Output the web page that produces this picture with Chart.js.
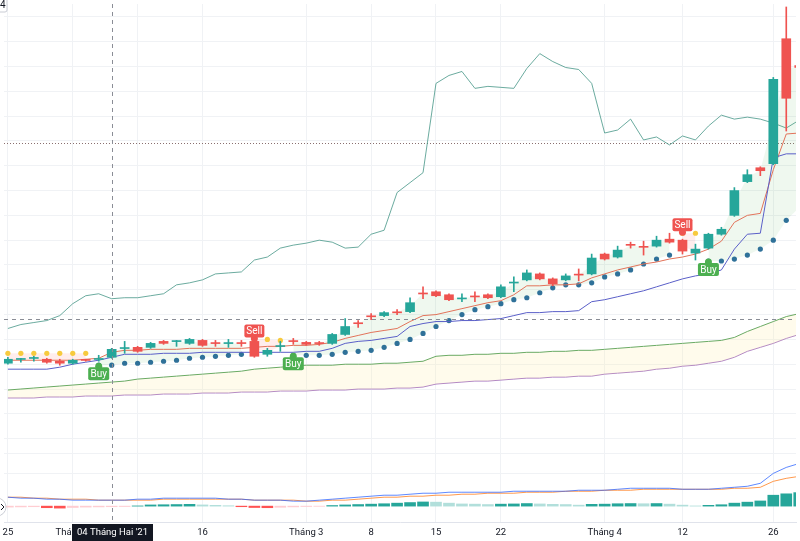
<!DOCTYPE html>
<html>
<head>
<meta charset="utf-8">
<script src="https://cdn.jsdelivr.net/npm/chart.js@4.4.1/dist/chart.umd.min.js"></script>
<style>
  html, body { margin: 0; padding: 0; background: #fff; }
  canvas { display: block; }
</style>
</head>
<body>
<canvas id="chart" width="800" height="541"></canvas>
<script>
// daily sessions from 25 Jan 2021 (bar index 0) to late April
const tickIdx = [0, 5, 10, 15, 23, 28, 33, 38, 46, 52, 59];
const tickLabels = ['25', 'Tháng 2', '8', '16', 'Tháng 3', '8', '15', '22', 'Tháng 4', '12', '26'];
const crossIdx = 8;
const crossLabel = "04 Tháng Hai '21";
const crossPrice = 22.1;
const lastPriceLine = 39.8;
const gridPrices = [52.5, 50, 47.5, 45, 42.5, 40, 37.5, 35, 32.5, 30, 27.5, 25, 22.5, 20, 17.5, 15, 12.5, 10];
const gridMacd = [2.65, 1.65];

const open = [17.6, 17.98, 18.08, 18.0, 17.8, 17.6, 17.92, 17.98, 18.2, 19.08, 19.2, 19.2, 19.8, 19.78, 19.6, 19.9, 19.62, 19.58, 19.62, 19.8,
  18.5, 19.28, 19.82, 19.7, 19.62, 19.6, 20.5, 21.62, 22.32, 22.4, 22.72, 22.8, 24.62, 24.8, 24.5, 24.08, 24.32, 24.5, 24.3, 25.68,
  26.0, 26.6, 26.1, 26.0, 26.52, 26.6, 28.6, 28.3, 29.52, 29.32, 29.4, 30.1, 30.0, 28.7, 29.2, 30.6, 32.5, 35.9, 37.3, 37.7, 50.3, 47.6];
const high = [18.2, 18.1, 18.3, 18.1, 18.0, 18.0, 18.0, 18.4, 19.1, 19.8, 19.3, 19.7, 19.9, 19.9, 20.1, 20.0, 19.9, 20.0, 19.9, 19.9,
  19.1, 19.8, 20.1, 19.8, 19.8, 20.6, 22.1, 21.9, 22.6, 22.8, 23.0, 24.2, 25.3, 24.9, 24.6, 24.6, 24.8, 24.6, 25.5, 26.3,
  27.0, 26.7, 26.2, 26.6, 27.1, 28.6, 28.7, 29.4, 29.8, 29.9, 30.4, 30.7, 30.1, 29.6, 30.7, 31.3, 35.3, 37.1, 37.4, 46.4, 53.5, 47.8];
const low = [17.5, 17.7, 17.8, 17.6, 17.4, 17.5, 17.8, 17.8, 18.1, 18.6, 18.7, 19.1, 19.5, 19.3, 19.5, 19.3, 19.3, 19.2, 19.3, 18.2,
  18.3, 18.8, 19.5, 19.4, 19.4, 19.5, 20.4, 21.2, 22.0, 22.3, 22.5, 22.7, 24.1, 24.3, 23.9, 23.8, 23.8, 24.1, 24.2, 24.8,
  25.9, 26.0, 25.4, 25.9, 25.9, 26.5, 28.0, 28.2, 29.2, 28.5, 29.3, 29.7, 28.6, 28.0, 29.1, 30.5, 32.4, 35.8, 36.5, 37.6, 41.0, 47.2];
const close = [18.0, 18.02, 18.12, 17.7, 17.6, 17.9, 17.88, 18.02, 19.0, 19.12, 18.8, 19.6, 19.6, 19.82, 20.0, 19.4, 19.58, 19.62, 19.58, 18.3,
  18.9, 19.32, 19.78, 19.5, 19.58, 20.5, 21.3, 21.58, 22.28, 22.7, 22.68, 23.7, 24.58, 24.4, 24.0, 24.12, 24.28, 24.2, 25.3, 25.72,
  26.7, 26.1, 25.6, 26.4, 26.48, 28.2, 28.1, 29.0, 29.48, 29.28, 30.0, 29.8, 28.9, 29.1, 30.6, 31.1, 35.0, 36.6, 37.0, 46.2, 44.3, 47.4];

// moving averages
const maFast = [17.9, 17.9, 17.9, 17.9, 17.9, 17.9, 18.0, 18.1, 18.7, 18.9, 18.9, 19.0, 19.0, 19.0, 19.1, 19.1, 19.1, 19.1, 19.1, 19.2,
  19.3, 19.3, 19.4, 19.4, 19.5, 19.7, 20.1, 20.4, 20.7, 20.9, 21.1, 21.8, 22.4, 22.5, 22.8, 23.1, 23.4, 23.7, 23.9, 24.5,
  25.4, 25.4, 25.5, 25.5, 25.6, 26.2, 26.6, 27.0, 27.3, 27.6, 27.8, 28.1, 28.3, 28.6, 29.1, 29.9, 31.8, 32.5, 32.7, 37.1, 40.7, 40.8];
const maSlow = [17.0, 17.0, 17.0, 17.0, 17.2, 17.5, 17.7, 17.9, 18.2, 18.5, 18.5, 18.5, 18.6, 18.6, 18.6, 18.7, 18.7, 18.7, 18.7, 18.7,
  18.7, 18.7, 18.7, 18.8, 18.8, 19.1, 19.6, 19.8, 19.9, 20.1, 20.3, 21.3, 21.6, 21.8, 21.8, 21.9, 21.9, 22.0, 22.1, 22.4,
  22.7, 22.7, 22.8, 22.8, 22.9, 23.8, 24.0, 24.3, 24.6, 24.9, 25.3, 25.7, 26.1, 26.4, 26.6, 27.0, 29.1, 30.6, 30.7, 38.3, 38.7, 38.7];
const bandUpper = [14.9, 15.0, 15.1, 15.2, 15.3, 15.4, 15.5, 15.6, 15.7, 15.8, 16.0, 16.1, 16.2, 16.3, 16.4, 16.5, 16.6, 16.7, 16.8, 17.0,
  17.1, 17.2, 17.3, 17.4, 17.4, 17.4, 17.5, 17.5, 17.5, 17.6, 17.6, 17.7, 17.8, 18.3, 18.4, 18.4, 18.5, 18.5, 18.6, 18.6,
  18.7, 18.7, 18.8, 18.8, 18.9, 18.9, 19.0, 19.1, 19.2, 19.3, 19.4, 19.5, 19.6, 19.7, 19.8, 19.9, 20.2, 20.8, 21.3, 21.8, 22.3, 22.6];
const bandLower = [14.1, 14.1, 14.1, 14.2, 14.2, 14.2, 14.3, 14.3, 14.3, 14.4, 14.4, 14.4, 14.5, 14.5, 14.5, 14.6, 14.6, 14.6, 14.7, 14.7,
  14.7, 14.8, 14.8, 14.8, 14.9, 14.9, 14.9, 15.0, 15.0, 15.0, 15.1, 15.1, 15.2, 15.5, 15.6, 15.7, 15.8, 15.8, 15.9, 16.0,
  16.1, 16.1, 16.2, 16.2, 16.3, 16.3, 16.5, 16.6, 16.7, 16.8, 17.0, 17.1, 17.3, 17.4, 17.6, 17.8, 18.2, 18.8, 19.2, 19.6, 20.1, 20.5];

// supertrend: up line while long, down line while short
const stUp = [null, null, null, null, null, null, null, 17.4, 17.4, 17.6, 17.6, 17.7, 17.8, 17.9, 18.1, 18.2, 18.3, 18.4, 18.5, null,
  null, null, 18.4, 18.4, 18.4, 18.5, 18.7, 18.8, 18.9, 19.2, 19.6, 20.0, 20.6, 21.3, 21.9, 22.5, 23.0, 23.3, 23.6, 24.0,
  24.2, 24.7, 25.2, 25.5, 25.5, 25.7, 26.3, 26.6, 27.0, 27.6, 28.1, 28.5, null, null, 27.9, 27.9, 28.1, 28.5, 29.1, 30.0, 32.0, 33.3];
const stDown = [18.6, 18.6, 18.6, 18.6, 18.6, 18.6, 18.6, null, null, null, null, null, null, null, null, null, null, null, null, 20.0,
  20.0, 19.9, null, null, null, null, null, null, null, null, null, null, null, null, null, null, null, null, null, null,
  null, null, null, null, null, null, null, null, null, null, null, null, 30.7, 30.7, null, null, null, null, null, null, null, null];
const buyIdx = [7, 22, 54];
const sellIdx = [19, 52];

// comparison symbol (own scale)
const compare = [27.3, 27.7, 27.9, 28.1, 28.6, 29.8, 30.6, 30.8, 30.3, 30.4, 30.4, 30.6, 30.8, 31.7, 31.9, 32.2, 32.8, 32.9, 33.0, 34.2,
  34.5, 35.4, 35.7, 35.9, 36.2, 36.0, 35.4, 35.5, 36.8, 37.2, 41.0, 42.0, 43.0, 52.0, 52.8, 53.2, 51.5, 51.7, 51.6, 51.5,
  53.5, 55.0, 54.2, 53.6, 53.4, 52.0, 47.0, 47.3, 48.4, 46.3, 46.6, 45.8, 46.7, 46.3, 47.7, 48.8, 48.4, 48.6, 48.4, 48.0, 47.5, 48.3];

// MACD pane
const macdLine = [0.45, 0.40, 0.40, 0.35, 0.35, 0.30, 0.30, 0.30, 0.30, 0.30, 0.35, 0.35, 0.40, 0.40, 0.40, 0.40, 0.40, 0.35, 0.35, 0.30,
  0.30, 0.30, 0.25, 0.25, 0.30, 0.35, 0.40, 0.45, 0.50, 0.55, 0.55, 0.60, 0.65, 0.65, 0.70, 0.70, 0.70, 0.70, 0.70, 0.75,
  0.75, 0.75, 0.75, 0.75, 0.80, 0.80, 0.80, 0.85, 0.90, 0.90, 0.90, 0.90, 0.85, 0.85, 0.85, 0.90, 0.95, 1.00, 1.15, 1.65, 1.95, 2.15];
const signalLine = [0.45, 0.45, 0.40, 0.40, 0.35, 0.35, 0.35, 0.30, 0.30, 0.30, 0.30, 0.30, 0.35, 0.35, 0.35, 0.35, 0.35, 0.35, 0.35, 0.30,
  0.30, 0.30, 0.30, 0.25, 0.25, 0.30, 0.30, 0.35, 0.40, 0.45, 0.45, 0.50, 0.50, 0.55, 0.55, 0.60, 0.60, 0.65, 0.65, 0.65,
  0.70, 0.70, 0.70, 0.75, 0.75, 0.75, 0.80, 0.80, 0.80, 0.85, 0.85, 0.85, 0.85, 0.85, 0.85, 0.85, 0.90, 0.90, 0.95, 1.25, 1.40, 1.50];
const macdHist = [-0.05, -0.04, -0.03, -0.08, -0.10, -0.07, -0.05, -0.04, -0.03, -0.02, 0.01, 0.06, 0.07, 0.08, 0.09, 0.06, 0.04, 0.02, -0.03, -0.07,
  -0.08, -0.06, -0.04, -0.02, -0.01, 0.03, 0.06, 0.08, 0.10, 0.12, 0.15, 0.18, 0.21, 0.20, 0.15, 0.11, 0.10, 0.08, 0.10, 0.11,
  0.13, 0.11, 0.09, 0.08, 0.05, 0.09, 0.10, 0.12, 0.13, 0.12, 0.13, 0.10, 0.05, 0.01, 0.04, 0.07, 0.15, 0.20, 0.26, 0.55, 0.62, 0.68];

const fam = "Roboto, 'DejaVu Sans', sans-serif";
Chart.defaults.font.family = fam;

const pts = arr => arr.map((v, i) => ({ x: i, y: v }));
const mid = open.map((o, i) => (o + high[i] + low[i] + close[i]) / 4);
const candleColor = close.map((c, i) => c >= open[i] ? '#26a69a' : '#ef5350');
const histColor = macdHist.map((h, i) => {
  const prev = i > 0 ? macdHist[i - 1] : h - 1;
  if (h >= 0) return prev < h ? '#26a69a' : '#b2dfdb';
  return prev < h ? '#ffcdd2' : '#ff5252';
});

// draws a Buy / Sell tag at the supertrend value
function drawTag(ctx, px, py, text, color, dir) {
  ctx.save();
  ctx.fillStyle = color;
  ctx.beginPath();
  ctx.arc(px, py + dir, 3.5, 0, Math.PI * 2);
  ctx.fill();
  const w = text === 'Buy' ? 21 : 20, h = 13;
  const top = dir > 0 ? py + 2 : py - 2 - h;
  ctx.beginPath();
  ctx.roundRect(px - w / 2, top, w, h, 2);
  ctx.fill();
  ctx.fillStyle = '#ffffff';
  ctx.font = '10px ' + fam;
  ctx.textAlign = 'center';
  ctx.textBaseline = 'middle';
  ctx.fillText(text, px, top + h / 2 + 0.5);
  ctx.restore();
}

const overlay = {
  id: 'overlay',
  beforeDatasetsDraw(chart) {
    const { ctx, chartArea } = chart;
    const yy = chart.scales.y.getPixelForValue(lastPriceLine);
    ctx.save();
    ctx.strokeStyle = 'rgba(125, 95, 95, 0.9)';
    ctx.setLineDash([1, 2]);
    ctx.lineWidth = 1;
    ctx.beginPath();
    ctx.moveTo(chartArea.left, Math.round(yy) + 0.5);
    ctx.lineTo(chartArea.right, Math.round(yy) + 0.5);
    ctx.stroke();
    ctx.restore();
  },
  afterDatasetsDraw(chart) {
    const { ctx } = chart;
    const x = chart.scales.x, y = chart.scales.y;
    buyIdx.forEach(i => drawTag(ctx, x.getPixelForValue(i), y.getPixelForValue(stUp[i]), 'Buy', '#4caf50', 1));
    sellIdx.forEach(i => drawTag(ctx, x.getPixelForValue(i), y.getPixelForValue(stDown[i]), 'Sell', '#ef5350', -1));
  },
  afterDraw(chart) {
    const { ctx, chartArea } = chart;
    const cx = Math.round(chart.scales.x.getPixelForValue(crossIdx)) + 0.5;
    const cy = Math.round(chart.scales.y.getPixelForValue(crossPrice)) + 0.5;
    ctx.save();
    ctx.strokeStyle = '#8a8d96';
    ctx.lineWidth = 1;
    ctx.setLineDash([4, 4]);
    ctx.beginPath();
    ctx.moveTo(cx, chartArea.top);
    ctx.lineTo(cx, chartArea.bottom);
    ctx.moveTo(chartArea.left, cy);
    ctx.lineTo(chartArea.right, cy);
    ctx.stroke();
    ctx.setLineDash([]);

    // date label of the crosshair
    ctx.font = '9.5px ' + fam;
    const tw = ctx.measureText(crossLabel).width + 10;
    ctx.fillStyle = '#131722';
    ctx.fillRect(cx - tw / 2, chartArea.bottom + 2, tw, 19);
    ctx.fillStyle = '#ffffff';
    ctx.textAlign = 'center';
    ctx.textBaseline = 'middle';
    ctx.fillText(crossLabel, cx, chartArea.bottom + 11);

    // pane buttons cut by the edge
    ctx.strokeStyle = '#c9ccd4';
    ctx.fillStyle = '#ffffff';
    ctx.beginPath();
    ctx.roundRect(-10, -4, 17, 16, 2);
    ctx.fill();
    ctx.stroke();
    ctx.fillStyle = '#131722';
    ctx.font = '10px ' + fam;
    ctx.textAlign = 'left';
    ctx.fillText('4', 0, 5);
    ctx.fillStyle = '#ffffff';
    ctx.beginPath();
    ctx.arc(-3, 507, 9, 0, Math.PI * 2);
    ctx.fill();
    ctx.stroke();
    ctx.strokeStyle = '#131722';
    ctx.beginPath();
    ctx.moveTo(1, 504);
    ctx.lineTo(4, 507);
    ctx.lineTo(1, 510);
    ctx.stroke();
    ctx.restore();
  }
};

const lineDs = (data, color, axis, order, extra) => Object.assign({
  type: 'line', data: pts(data), borderColor: color, borderWidth: 1, pointRadius: 0,
  tension: 0, yAxisID: axis, order: order, fill: false
}, extra || {});

const datasets = [
  lineDs(bandLower, '#ad80c6', 'y', 20),                                          // 0
  lineDs(bandUpper, '#6aaa64', 'y', 19,
    { fill: { target: 0, above: 'rgba(255, 238, 170, 0.22)', below: 'rgba(255, 238, 170, 0.22)' } }), // 1
  lineDs(compare, 'rgba(70, 150, 135, 0.8)', 'yCmp', 18),                         // 2
  lineDs(mid, 'rgba(0,0,0,0)', 'y', 17, { borderWidth: 0 }),                     // 3
  lineDs(stUp, 'rgba(0,0,0,0)', 'y', 16, {
    showLine: false, pointRadius: 2.6, pointBackgroundColor: '#2f7199', pointBorderWidth: 0,
    fill: { target: 3, above: 'rgba(76, 175, 80, 0.09)', below: 'rgba(76, 175, 80, 0.09)' }
  }),
  lineDs(stDown, 'rgba(0,0,0,0)', 'y', 16, {
    showLine: false, pointRadius: 2.6, pointBackgroundColor: '#f7ca3e', pointBorderWidth: 0,
    fill: { target: 3, above: 'rgba(255, 82, 82, 0.10)', below: 'rgba(255, 82, 82, 0.10)' }
  }),
  lineDs(maSlow, '#5a5fc8', 'y', 12),
  lineDs(maFast, '#e2735a', 'y', 12),
  {
    type: 'bar', data: pts(macdHist), backgroundColor: histColor, yAxisID: 'yMacd',
    barThickness: 11, grouped: false, order: 11
  },
  lineDs(macdLine, 'rgba(41, 98, 255, 0.75)', 'yMacd', 10),
  lineDs(signalLine, 'rgba(255, 109, 0, 0.7)', 'yMacd', 10),
  {
    type: 'bar', data: low.map((l, i) => ({ x: i, y: [l, high[i]] })), backgroundColor: candleColor,
    yAxisID: 'y', barThickness: 1, grouped: false, order: 2
  },
  {
    type: 'bar', data: open.map((o, i) => ({ x: i, y: [o, close[i]] })), backgroundColor: candleColor,
    yAxisID: 'y', barThickness: 9, minBarLength: 1, grouped: false, order: 1
  }
];

const gridColor = '#f0f2f5';

new Chart(document.getElementById('chart').getContext('2d'), {
  type: 'line',
  data: { datasets },
  options: {
    responsive: false,
    devicePixelRatio: 1,
    animation: false,
    events: [],
    layout: { padding: 0 },
    plugins: { legend: { display: false }, tooltip: { enabled: false } },
    scales: {
      x: {
        type: 'linear', min: -0.3, max: 60.75, offset: false,
        afterBuildTicks: ax => { ax.ticks = tickIdx.map(v => ({ value: v })); },
        afterFit: ax => { ax.height = 19; ax.paddingLeft = 0; ax.paddingRight = 0; },
        grid: { color: gridColor, drawTicks: false, offset: false },
        border: { color: '#e0e3eb' },
        ticks: {
          autoSkip: false, maxRotation: 0, padding: 5, color: '#131722',
          font: { size: 9.5 },
          callback: (v, i) => tickLabels[i]
        }
      },
      y: {
        position: 'left', min: 1.6, max: 53.8,
        afterBuildTicks: ax => { ax.ticks = gridPrices.map(v => ({ value: v })); },
        ticks: { display: false },
        grid: { color: gridColor, drawTicks: false },
        border: { display: false }
      },
      yMacd: {
        position: 'left', min: -0.8, max: 25.3,
        afterBuildTicks: ax => { ax.ticks = gridMacd.map(v => ({ value: v })); },
        ticks: { display: false },
        grid: { color: gridColor, drawTicks: false },
        border: { display: false }
      },
      yCmp: { display: false, min: 7.8, max: 60 }
    }
  },
  plugins: [overlay]
});
</script>
</body>
</html>
